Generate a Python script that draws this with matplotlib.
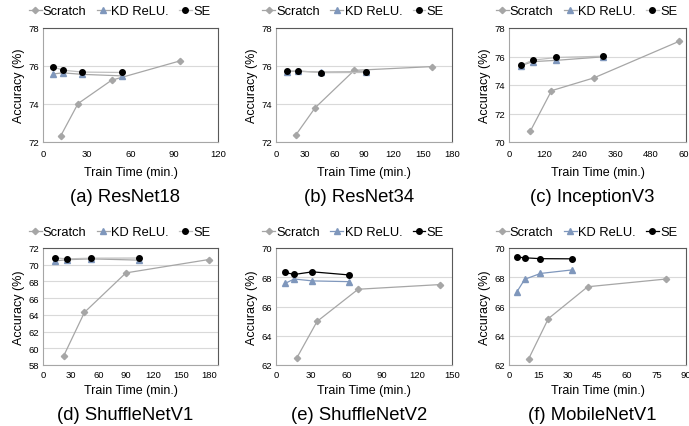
import matplotlib

matplotlib.use("Agg")

import matplotlib.pyplot as plt


plt.rcParams["font.family"] = ["Liberation Sans", "DejaVu Sans"]

PANELS = ["(a) ResNet18", "(b) ResNet34", "(c) InceptionV3",
          "(d) ShuffleNetV1", "(e) ShuffleNetV2", "(f) MobileNetV1"]

# train time (min.) and accuracy (%) per panel
scratch_x = [
    [12, 24, 47, 94],
    [20, 40, 80, 160],
    [72, 144, 288, 576],
    [22.5, 45, 90, 180],
    [17.5, 35, 70, 140],
    [10, 20, 40, 80],
]
scratch_y = [
    [72.3, 74.02, 75.25, 76.27],
    [72.35, 73.8, 75.77, 75.97],
    [70.75, 73.6, 74.5, 77.06],
    [59.1, 64.3, 69.02, 70.62],
    [62.45, 64.98, 67.18, 67.5],
    [62.42, 65.17, 67.35, 67.88],
]
kd_x = [
    [7, 13.5, 27, 54],
    [11.5, 23, 46, 92],
    [40, 80, 160, 320],
    [13, 26, 52, 104],
    [7.75, 15.5, 31, 62],
    [4, 8, 16, 32],
]
kd_y = [
    [75.58, 75.64, 75.56, 75.48],
    [75.71, 75.72, 75.68, 75.7],
    [75.35, 75.64, 75.73, 75.98],
    [70.45, 70.6, 70.7, 70.55],
    [67.58, 67.88, 67.75, 67.7],
    [67.0, 67.86, 68.26, 68.5],
]
se_x = kd_x
se_y = [
    [75.96, 75.78, 75.68, 75.66],
    [75.74, 75.74, 75.65, 75.66],
    [75.38, 75.74, 75.93, 76.02],
    [70.82, 70.7, 70.78, 70.8],
    [68.33, 68.19, 68.37, 68.16],
    [69.38, 69.33, 69.27, 69.26],
]

x_limits = [(0, 120), (0, 180), (0, 600), (0, 190), (0, 150), (0, 90)]
x_tick_max = [120, 180, 600, 180, 150, 90]
x_steps = [30, 30, 120, 30, 30, 15]
y_limits = [(72, 78), (72, 78), (70, 78), (58, 72), (62, 70), (62, 70)]

GRAY = "#A6A6A6"
BLUE = "#7F97BC"
LIGHT_LINE = "#BFBFBF"

FIG_W, FIG_H = 689, 427
# pixel layout (from top-left)
COL_LEFT = [43, 276, 509]
COL_RIGHT = [218, 452, 686]
ROW_TOP = [29, 249]
ROW_BOTTOM = [143, 366]
TICK_PAD = [5, 3.5]
XLABEL_GAP = [24, 19]
LEGEND_Y = [12, 233]
CAPTION_Y = [198, 416]


def style_axes(ax, i, row):
    x0, x1 = x_limits[i]
    y0, y1 = y_limits[i]
    ax.set_xlim(x0, x1)
    ax.set_ylim(y0, y1)
    ax.set_xticks(range(x0, x_tick_max[i] + 1, x_steps[i]))
    ax.set_yticks(range(y0, y1 + 1, 2))
    ax.tick_params(length=0, labelsize=6.8, colors="#000000")
    ax.tick_params(axis="x", pad=TICK_PAD[row])
    ax.tick_params(axis="y", pad=3)
    ax.yaxis.grid(True, color="#D9D9D9", linewidth=0.8)
    ax.set_axisbelow(True)
    for side in ("top", "right"):
        ax.spines[side].set_color("#595959")
        ax.spines[side].set_linewidth(0.8)
    for side in ("left", "bottom"):
        ax.spines[side].set_color("#A6A6A6")
        ax.spines[side].set_linewidth(0.8)
    height = ROW_BOTTOM[row] - ROW_TOP[row]
    ax.set_xlabel("Train Time (min.)", fontsize=9)
    ax.xaxis.set_label_coords(0.5, -XLABEL_GAP[row] / height)
    ax.set_ylabel("Accuracy (%)", fontsize=9, labelpad=2)


def plot_panel(fig, ax, i, row, col):
    dark = i >= 4
    kd_line = BLUE if dark else GRAY
    se_line = "#000000" if dark else LIGHT_LINE
    ax.plot(scratch_x[i], scratch_y[i], color=GRAY, linewidth=0.9,
            marker="D", markersize=3.2, label="Scratch")
    ax.plot(kd_x[i], kd_y[i], color=kd_line, linewidth=0.9,
            marker="^", markersize=4, markerfacecolor=BLUE,
            markeredgecolor=BLUE, label="KD ReLU.")
    ax.plot(se_x[i], se_y[i], color=se_line, linewidth=0.9,
            marker="o", markersize=4, markerfacecolor="#000000",
            markeredgecolor="#000000", label="SE")
    center_x = (COL_LEFT[col] + COL_RIGHT[col]) / 2
    ax.legend(loc="center",
              bbox_to_anchor=((center_x - 11) / FIG_W, 1 - LEGEND_Y[row] / FIG_H),
              bbox_transform=fig.transFigure, ncol=3,
              frameon=False, fontsize=9.3, handlelength=1.0,
              handletextpad=0.1, columnspacing=0.8, borderpad=0)
    fig.text((center_x - 5) / FIG_W, 1 - CAPTION_Y[row] / FIG_H, PANELS[i],
             ha="center", va="center", fontsize=13.3)


def main():
    fig = plt.figure(figsize=(FIG_W / 100, FIG_H / 100), dpi=100)
    for i in range(6):
        row, col = divmod(i, 3)
        rect = [
            COL_LEFT[col] / FIG_W,
            1 - ROW_BOTTOM[row] / FIG_H,
            (COL_RIGHT[col] - COL_LEFT[col]) / FIG_W,
            (ROW_BOTTOM[row] - ROW_TOP[row]) / FIG_H,
        ]
        ax = fig.add_axes(rect)
        style_axes(ax, i, row)
        plot_panel(fig, ax, i, row, col)
    fig.savefig("out.png", dpi=100)
    plt.close(fig)


if __name__ == "__main__":
    main()
